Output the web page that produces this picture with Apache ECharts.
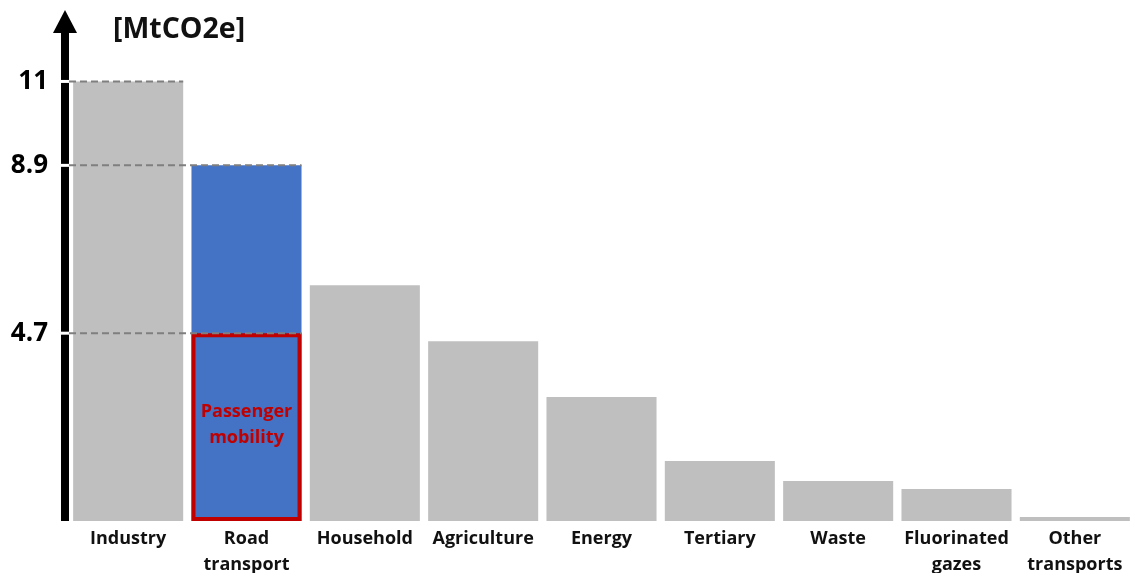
<!DOCTYPE html>
<html>
<head>
<meta charset="utf-8">
<script src="https://cdn.jsdelivr.net/npm/echarts@6/dist/echarts.min.js"></script>
<style>
  html, body { margin: 0; padding: 0; background: #fff; }
  #chart { width: 1132px; height: 573px; }
</style>
</head>
<body>
<div id="chart"></div>
<script>
// Emissions by sector, MtCO2e
const categories = ['Industry', 'Road\ntransport', 'Household', 'Agriculture', 'Energy',
  'Tertiary', 'Waste', 'Fluorinated\ngazes', 'Other\ntransports'];
const emissions = [11, 8.9, 5.9, 4.5, 3.1, 1.5, 1.0, 0.8, 0.1];
// Share of road transport due to passenger mobility
const passengerMobility = [null, 4.7, null, null, null, null, null, null, null];
const highlightedSector = 1;
// Reference levels shown on the vertical axis: [category index, value]
const guideLevels = [[0, 11], [1, 8.9], [1, 4.7]];
const tickValues = [11, 8.9, 4.7];
const unitLabel = '[MtCO2e]';

const BAR_RATIO = 0.93;
const AXIS_OFFSET = 4;
const TEXT_FONT = '"Open Sans", "Noto Sans", sans-serif';

const chart = echarts.init(document.getElementById('chart'), null, { renderer: 'canvas' });

chart.setOption({
  animation: false,
  backgroundColor: '#ffffff',
  grid: {
    left: 69, right: -2, top: 21.5, bottom: 52,
    containLabel: false, outerBoundsMode: 'none'
  },
  graphic: [{
    type: 'text',
    style: {
      x: 113, y: 30, text: unitLabel, fill: '#111',
      font: 'bold 28.5px ' + TEXT_FONT, verticalAlign: 'middle', align: 'left'
    }
  }],
  xAxis: {
    type: 'category',
    data: categories,
    axisLine: { show: false },
    axisTick: { show: false },
    axisLabel: {
      interval: 0, margin: 5, color: '#111',
      fontFamily: TEXT_FONT, fontWeight: 'bold', fontSize: 18, lineHeight: 26
    }
  },
  yAxis: {
    type: 'value',
    min: 0,
    max: 12.5,
    offset: AXIS_OFFSET,
    splitLine: { show: false },
    axisTick: { show: false },
    axisLine: {
      show: true,
      symbol: ['none', 'triangle'],
      symbolSize: [24, 23],
      lineStyle: { color: '#000', width: 8, cap: 'butt' }
    },
    axisLabel: {
      customValues: tickValues,
      formatter: (v) => String(v),
      margin: 17, color: '#000', padding: [0, 0, 8, 0],
      fontFamily: TEXT_FONT, fontWeight: 'bold', fontSize: 26
    }
  },
  series: [
    {
      type: 'bar',
      barWidth: (BAR_RATIO * 100) + '%',
      barGap: '-100%',
      z: 2,
      data: emissions.map((v, i) => ({
        value: v,
        itemStyle: { color: i === highlightedSector ? '#4472C4' : '#BFBFBF' }
      }))
    },
    {
      type: 'bar',
      barWidth: (BAR_RATIO * 100) + '%',
      barGap: '-100%',
      z: 3,
      data: passengerMobility,
      itemStyle: { color: 'rgba(0,0,0,0)', borderColor: '#C00000', borderWidth: 4 },
      label: {
        show: true, position: 'inside', offset: [0, -2],
        formatter: 'Passenger\nmobility', color: '#C00000',
        fontFamily: TEXT_FONT, fontWeight: 'bold', fontSize: 18, lineHeight: 26
      }
    },
    {
      // dashed guides from the axis to the top of the referenced bar
      type: 'custom',
      z: 5,
      clip: false,
      silent: true,
      data: guideLevels,
      renderItem: function (params, api) {
        const p = api.coord([api.value(0), api.value(1)]);
        const band = api.size([1, 0])[0];
        const axisX = params.coordSys.x - AXIS_OFFSET;
        const endX = p[0] + band * BAR_RATIO / 2;
        return {
          type: 'group',
          children: [
            {
              type: 'line',
              shape: { x1: axisX - 6, y1: p[1], x2: axisX + 4, y2: p[1] },
              style: { stroke: '#fff', lineWidth: 3 }
            },
            {
              type: 'line',
              shape: { x1: axisX + 4, y1: p[1], x2: endX, y2: p[1] },
              style: { stroke: '#7F7F7F', lineWidth: 2, lineDash: [7, 4] }
            }
          ]
        };
      }
    }
  ]
});
</script>
</body>
</html>
